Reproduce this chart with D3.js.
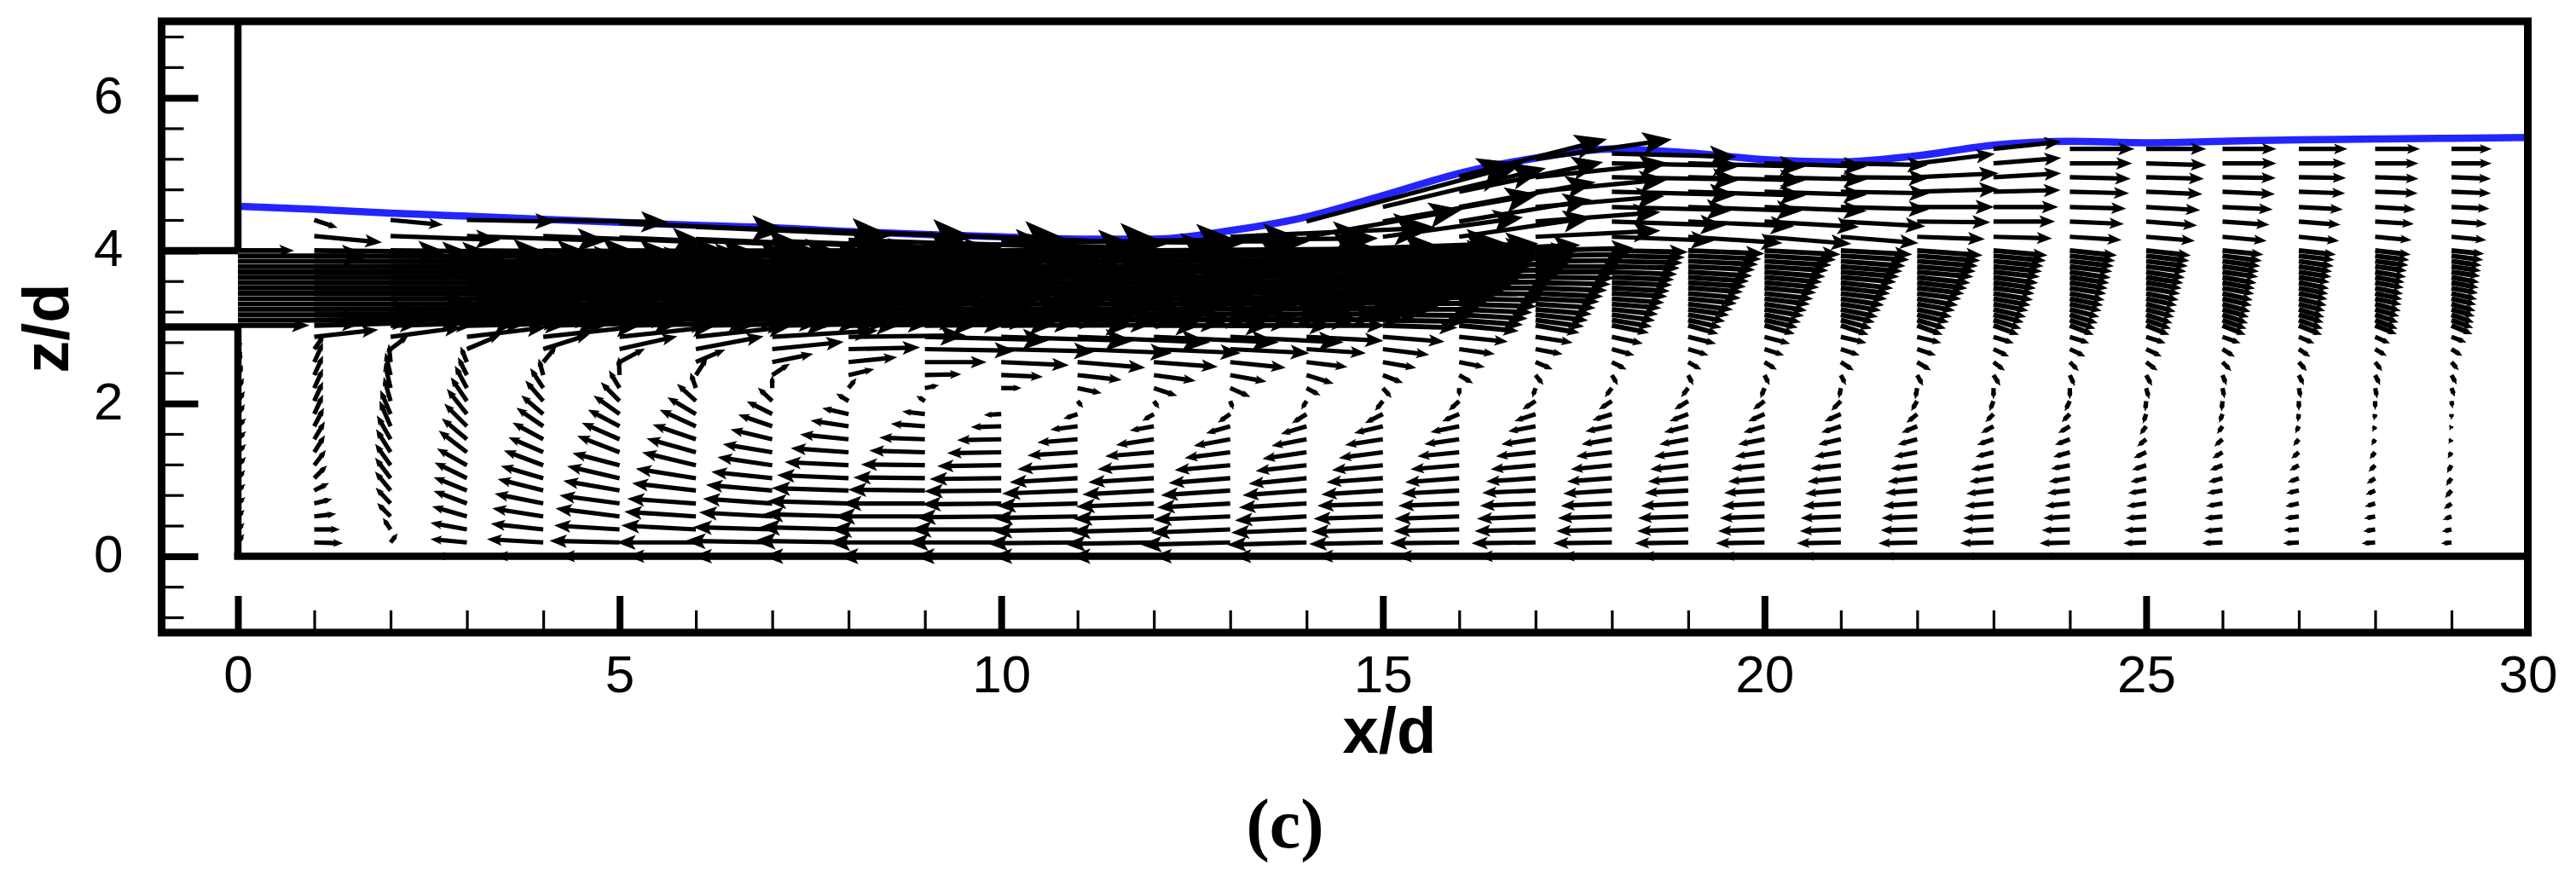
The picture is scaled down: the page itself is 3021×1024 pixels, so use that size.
<!DOCTYPE html>
<html>
<head>
<meta charset="utf-8">
<title>velocity vectors</title>
<script src="https://cdn.jsdelivr.net/npm/d3@7"></script>
<style>
html, body { margin: 0; padding: 0; background: #fff; }
text { font-family: "Liberation Sans", Arial, sans-serif; fill: #000; }
</style>
</head>
<body>
<div id="chart"></div>
<script>
// stations along the channel, x/d
var stations = [0,1,2,3,4,5,6,7,8,9,10,11,12,13,14,15,16,17,18,19,20,21,22,23,24,25,26,27,28,29];
var xTicks = [0,5,10,15,20,25,30];
var zTicks = [0,2,4,6];
var xMinor = [1,2,3,4,6,7,8,9,11,12,13,14,16,17,18,19,21,22,23,24,26,27,28,29];
var zMinor = [-0.8,-0.4,0.4,0.8,1.2,1.6,2.4,2.8,3.2,3.6,4.4,4.8,5.2,5.6,6.4,6.8];

// free surface z/d at x/d = 0..30
var surfaceX = [0,1,2,3,4,5,6,7,8,9,10,11,12,13,14,15,16,17,18,19,20,21,22,23,24,25,26,27,28,29,30];
var surfaceZ = [4.58,4.54,4.49,4.45,4.41,4.37,4.33,4.3,4.25,4.21,4.18,4.15,4.15,4.26,4.44,4.72,5.01,5.21,5.33,5.28,5.19,5.16,5.24,5.38,5.43,5.41,5.43,5.45,5.46,5.47,5.48];

// row heights
var zLow = [0.18,0.35,0.52,0.69,0.86,1.02,1.19,1.36,1.53,1.7,1.86,2.03,2.2,2.37,2.54,2.71,2.87];
var zJet = [3.02,3.09,3.16,3.23,3.3,3.37,3.44,3.51,3.58,3.65,3.72,3.79,3.86,3.93,4.0];

// vector components in 1/100 x/d, one row per station, bottom to top
// arrows lying on the floor z/d = 0, one value per station
var uFloor = [0,3,-7,-39,-60,-75,-86,-100,-108,-110,-110,-108,-105,-97,-92,-83,-79,-72,-63,-58,-52,-47,-41,-35,-30,-25,-20,-15,-12,-8];
var uLow = [
[6,6,6,7,7,7,8,8,8,8,7,7,6,5,4,3,2],
[34,30,25,20,16,14,13,12,12,11,10,10,10,10,10,11,80],
[7,-8,-15,-17,-18,-18,-18,-17,-16,-13,-12,-8,-7,-6,-2,20,90],
[-44,-44,-42,-40,-40,-39,-36,-34,-30,-27,-24,-19,-14,-10,-7,40,100],
[-70,-65,-63,-60,-56,-52,-48,-42,-37,-32,-26,-21,-15,-5,15,57,120],
[-88,-82,-80,-75,-70,-65,-58,-52,-46,-38,-31,-22,-12,-1,30,72,120],
[-100,-94,-90,-86,-80,-75,-67,-61,-53,-44,-34,-22,-6,13,35,85,120],
[-110,-100,-92,-87,-83,-76,-68,-61,-51,-41,-30,-16,0,20,50,90,135],
[-120,-113,-108,-103,-97,-90,-80,-72,-60,-46,-31,-13,8,30,60,90,150],
[-123,-120,-115,-105,-97,-90,-80,-69,-56,-41,-26,-8,15,44,77,115,160],
[-120,-115,-108,-100,-97,-90,-80,-67,-54,-36,-19,0,23,51,85,120,170],
[-115,-108,-107,-102,-95,-85,-75,-62,-49,-32,-15,5,28,54,85,120,170],
[-113,-105,-102,-98,-90,-82,-70,-60,-46,-28,-12,5,27,51,80,110,160],
[-113,-100,-97,-92,-87,-77,-69,-56,-44,-28,-13,3,23,44,69,100,145],
[-100,-95,-90,-85,-80,-72,-63,-54,-42,-30,-16,-5,15,32,50,74,97],
[-93,-90,-87,-82,-77,-70,-63,-54,-46,-34,-20,-8,9,23,40,57,77],
[-87,-82,-81,-76,-72,-67,-60,-51,-42,-34,-19,-11,0,15,30,43,60],
[-80,-76,-73,-69,-66,-61,-55,-48,-41,-32,-24,-14,-3,8,19,32,45],
[-73,-69,-67,-63,-60,-55,-50,-43,-36,-31,-22,-14,-7,6,16,26,37],
[-66,-63,-62,-58,-53,-49,-46,-41,-34,-28,-21,-15,-7,5,14,23,33],
[-60,-57,-55,-52,-49,-44,-40,-35,-31,-24,-18,-12,-4,5,13,22,30],
[-54,-50,-49,-46,-43,-40,-36,-31,-26,-22,-18,-10,-2,5,14,21,30],
[-47,-44,-43,-41,-38,-35,-31,-27,-22,-17,-11,-6,-2,6,15,21,28],
[-40,-37,-36,-34,-32,-28,-26,-20,-18,-13,-8,-4,0,7,12,17,23],
[-36,-33,-31,-29,-26,-24,-21,-18,-16,-12,-8,-5,0,5,9,17,22],
[-26,-25,-23,-22,-20,-17,-15,-13,-9,-6,-3,-1,3,6,12,17,22],
[-23,-21,-20,-18,-17,-15,-13,-10,-8,-5,-3,-1,2,4,9,13,20],
[-17,-16,-15,-14,-13,-11,-9,-7,-5,-3,-1,0,2,5,8,12,17],
[-14,-12,-11,-10,-9,-8,-6,-5,-3,-2,-1,0,2,5,7,12,16],
[-10,-9,-8,-7,-6,-5,-4,-3,-2,-1,0,1,3,5,7,11,16]
];
var wLow = [
[8,6,6,6,6,8,8,8,8,8,10,10,10,10,10,10,10],
[-1,0,3,5,8,14,17,19,20,21,22,22,22,22,22,15,9],
[9,12,15,18,22,24,25,27,28,30,28,28,30,26,20,15,12],
[4,8,12,15,16,19,20,26,25,27,30,28,26,20,17,17,12],
[4,7,10,12,14,15,18,18,20,22,22,24,23,18,18,18,13],
[2,5,10,10,12,15,15,20,20,20,22,22,20,20,16,16,13],
[0,5,6,6,9,12,16,17,18,20,20,20,17,20,15,16,13],
[2,3,5,6,7,8,10,10,12,14,15,15,13,13,10,9,8],
[2,3,3,3,3,4,4,5,6,7,7,8,10,7,6,2,2],
[0,0,0,0,1,1,1,2,2,3,3,5,3,1,0,-2,-4],
[0,0,-1,-1,-1,-1,-1,-1,-1,-1,-1,0,0,-2,-4,-3,-5],
[-1,-2,-2,-3,-4,-5,-5,-4,-4,-4,-5,-6,-6,-6,-7,-5,-7],
[-2,-3,-3,-4,-5,-5,-5,-5,-7,-5,-7,-7,-9,-7,-6,-5,-7],
[-3,-4,-4,-5,-6,-6,-6,-7,-8,-8,-9,-8,-10,-8,-7,-5,-7],
[-3,-4,-5,-5,-6,-7,-7,-8,-8,-9,-10,-8,-8,-10,-6,-5,-5],
[-2,-3,-3,-3,-5,-5,-6,-7,-7,-8,-10,-10,-10,-9,-7,-7,-6],
[-1,-2,-3,-3,-4,-5,-5,-5,-6,-7,-8,-10,-8,-9,-6,-6,-6],
[-1,-2,-3,-3,-3,-4,-5,-5,-6,-6,-8,-9,-9,-10,-8,-6,-7],
[-1,-2,-2,-3,-4,-4,-5,-5,-6,-6,-7,-9,-9,-10,-8,-7,-8],
[-1,-2,-2,-3,-3,-4,-5,-5,-6,-7,-8,-9,-9,-10,-8,-7,-8],
[-1,-2,-2,-3,-3,-4,-4,-5,-6,-7,-8,-9,-10,-10,-8,-7,-8],
[-1,-2,-2,-3,-4,-4,-4,-5,-6,-7,-8,-10,-10,-10,-9,-7,-7],
[-1,-1,-2,-3,-3,-4,-4,-5,-6,-7,-9,-10,-11,-11,-9,-7,-7],
[-1,-2,-2,-3,-4,-4,-5,-5,-6,-7,-8,-10,-11,-11,-9,-8,-7],
[-1,-1,-2,-3,-3,-4,-4,-5,-6,-7,-8,-10,-11,-11,-9,-8,-7],
[-1,-1,-2,-3,-3,-4,-5,-6,-7,-8,-9,-10,-11,-11,-9,-8,-7],
[-1,-2,-2,-3,-3,-4,-5,-6,-7,-7,-8,-10,-10,-10,-9,-8,-7],
[-1,-1,-2,-3,-3,-4,-5,-6,-6,-6,-7,-9,-10,-10,-9,-8,-7],
[-1,-2,-2,-3,-4,-5,-6,-6,-5,-4,-5,-8,-10,-10,-9,-7,-7],
[-1,-2,-3,-5,-7,-7,-7,-5,-3,-2,-4,-6,-8,-9,-8,-7,-6]
];
var uJet = [
[90,170,250,330,370,400,450,480,500,470,460,370,330,170,70],
[140,230,310,370,420,450,470,480,480,470,450,400,330,240,170],
[170,250,320,370,420,440,460,470,470,460,440,410,350,270,200],
[180,250,310,360,400,420,440,450,450,440,420,400,350,280,220],
[180,240,300,350,380,400,420,430,430,420,410,390,350,290,240],
[180,240,290,330,360,380,400,410,410,410,400,380,350,300,260],
[180,230,280,320,350,370,380,390,400,390,380,370,340,310,270],
[170,220,270,310,330,350,370,380,380,380,370,360,340,310,280],
[170,220,260,300,320,340,350,360,370,370,360,350,330,310,290],
[170,210,250,290,310,330,340,350,360,360,350,340,330,310,290],
[170,210,250,280,300,320,330,340,350,350,340,340,320,310,290],
[160,200,240,270,290,310,320,330,340,340,330,330,320,300,290],
[150,190,230,260,280,300,310,320,330,330,330,320,310,300,290],
[130,165,200,225,245,265,280,290,300,305,305,300,300,290,280],
[100,125,150,170,185,200,215,225,235,245,250,255,260,260,260],
[94,105,115,125,135,145,155,165,175,180,190,195,200,200,200],
[74,80,86,92,98,104,110,116,122,128,134,140,146,150,155],
[54,60,65,70,75,80,85,90,95,100,105,110,115,120,125],
[45,49,53,57,61,65,69,72,75,78,82,85,89,92,96],
[36,40,45,50,55,60,65,68,72,76,80,84,88,92,96],
[36,40,44,48,52,56,60,64,68,72,76,80,84,90,96],
[33,37,41,45,49,53,57,61,65,69,73,77,81,86,90],
[30,34,38,42,46,50,54,58,62,66,70,73,76,79,82],
[30,33,36,39,42,45,48,50,52,55,57,60,62,65,67],
[28,30,33,35,38,40,42,44,46,48,50,52,54,56,58],
[27,29,31,33,35,37,39,41,43,45,47,49,51,53,55],
[27,28,30,31,33,35,36,38,39,41,43,44,46,48,50],
[27,28,29,30,31,33,34,35,36,37,39,40,42,43,45],
[25,26,27,28,30,31,32,33,34,35,37,38,40,41,43],
[24,25,26,27,28,29,30,31,32,33,34,35,36,38,39]
];
var wJet = [
[0,0,0,0,0,0,0,0,0,0,0,0,0,0,0],
[4,3,2,1,0,0,0,0,0,0,0,0,-1,-1,-2],
[5,3,2,1,0,0,0,0,0,0,0,0,-1,-1,-2],
[4,3,2,1,0,0,0,0,0,0,0,0,-1,-1,-2],
[4,3,2,1,0,0,0,0,0,0,0,0,-1,-1,-2],
[3,2,1,1,0,0,0,0,0,0,0,0,-1,-1,-2],
[3,2,1,1,0,0,0,0,0,0,0,0,-1,-1,-1],
[3,2,1,0,0,0,0,0,0,0,0,0,-1,-1,-1],
[2,1,1,0,0,0,0,0,0,0,0,0,0,-1,-1],
[2,1,1,0,0,0,0,0,0,0,0,0,0,0,-1],
[1,1,1,0,0,0,0,0,0,1,1,0,0,0,0],
[1,1,1,1,1,1,1,1,1,1,1,1,1,1,0],
[0,1,1,1,2,2,2,2,3,3,3,3,3,3,2],
[0,1,1,2,3,3,4,4,4,4,4,4,3,3,2],
[0,1,2,3,4,5,5,6,7,7,8,8,9,9,9],
[-3,-2,-1,0,1,2,3,4,5,6,7,8,8,9,9],
[-7,-6,-5,-4,-3,-2,-1,0,1,2,3,4,5,6,7],
[-9,-8,-7,-6,-5,-4,-4,-3,-2,-1,0,0,1,2,3],
[-9,-8,-7,-6,-5,-5,-4,-4,-3,-3,-3,-2,-2,-2,-2],
[-10,-9,-8,-7,-7,-6,-6,-5,-5,-5,-5,-4,-4,-4,-4],
[-10,-9,-9,-8,-8,-7,-7,-6,-6,-6,-6,-5,-5,-5,-5],
[-11,-10,-9,-9,-8,-8,-7,-7,-7,-6,-6,-6,-6,-5,-5],
[-11,-10,-9,-9,-8,-8,-7,-7,-7,-7,-6,-6,-6,-6,-6],
[-11,-10,-9,-9,-8,-8,-8,-7,-7,-7,-6,-6,-6,-6,-6],
[-11,-10,-10,-9,-8,-8,-8,-7,-7,-7,-7,-6,-6,-6,-6],
[-11,-10,-10,-9,-9,-8,-8,-7,-7,-7,-7,-6,-6,-6,-6],
[-11,-10,-10,-9,-9,-8,-8,-7,-7,-7,-6,-6,-6,-6,-5],
[-11,-10,-9,-9,-8,-8,-7,-7,-7,-6,-6,-6,-6,-5,-5],
[-10,-10,-9,-8,-8,-7,-7,-7,-6,-6,-6,-5,-5,-5,-5],
[-10,-9,-9,-8,-8,-7,-7,-6,-6,-6,-5,-5,-5,-5,-4]
];
// rows above the jet, z/d differs per station
var zUp = [
[],[4.19,4.4],[4.19,4.4],[4.19,4.4],[4.19,4.4],[4.17,4.36],[4.15,4.31],[4.13,4.29],[4.14,4.25],[4.1,4.21],
[4.12],[4.12],[4.13],[4.18],[4.18,4.38],[4.18,4.38,4.57],[4.18,4.38,4.57,4.77,4.97],[4.18,4.38,4.57,4.77,4.96,5.2],
[4.18,4.38,4.57,4.77,4.96,5.14,5.27],[4.18,4.38,4.57,4.77,4.96,5.14],[4.18,4.38,4.57,4.77,4.96,5.14],[4.18,4.38,4.57,4.77,4.96,5.14],
[4.18,4.38,4.57,4.77,4.96,5.14],[4.18,4.38,4.57,4.77,4.96,5.14,5.33],[4.18,4.38,4.57,4.77,4.96,5.14,5.33],[4.18,4.38,4.57,4.77,4.96,5.14,5.33],
[4.18,4.38,4.57,4.77,4.96,5.14,5.33],[4.18,4.38,4.57,4.77,4.96,5.14,5.33],[4.18,4.38,4.57,4.77,4.96,5.14,5.33],[4.18,4.38,4.57,4.77,4.96,5.14,5.33]
];
var uUp = [
[],[85,27],[140,65],[180,113],[210,160],[240,215],[250,253],[255,260],[270,285],[280,315],
[315],[300],[290],[265],[200,280],[180,200,210],[170,170,175,185,190],[160,160,165,170,170,175],
[130,145,155,160,165,165,160],[120,135,145,150,150,150],[110,120,130,130,130,130],[98,107,112,113,112,110],
[85,92,97,103,103,98],[73,77,81,84,85,85,85],[64,67,70,74,76,78,81],[60,63,67,70,72,75,75],
[54,58,62,65,66,67,67],[49,51,54,57,58,58,60],[44,47,49,52,53,53,55],[42,43,46,48,48,49,49]
];
var wUp = [
[],[-8,-9],[-5,-6],[-6,-2],[-8,-3],[-10,-9],[-10,-11],[-10,-11],[-9,-11],[-6,-12],
[-2],[0],[3],[12],[35,75],[25,35,50],[25,28,32,38,48],[8,12,14,16,18,25],
[-5,-5,-4,-4,-3,-3,-4],[-8,-6,-5,-5,-4,-4],[-9,-7,-5,-4,-3,-4],[-8,-6,-3,-2,-1,-2],
[-3,-1,0,3,5,12],[-2,0,0,2,5,7,9],[-4,-3,-2,-2,-2,0,0],[-5,-5,-4,-3,-2,-2,0],
[-5,-4,-3,-3,-1,0,0],[-5,-4,-3,-2,-1,0,0],[-4,-3,-3,-2,-2,0,0],[-4,-3,-2,-2,-2,0,0]
];

var width = 3021, height = 1024;
var x = d3.scaleLinear().domain([-1, 30]).range([189.5, 2964.5]);
var z = d3.scaleLinear().domain([-1, 7]).range([742, 25]);

var svg = d3.select("#chart").append("svg")
	.attr("width", width)
	.attr("height", height)
	.style("display", "block");

// free surface first, arrows sit over it
var surface = surfaceX.map(function(d, i) { return [d, surfaceZ[i]]; });
svg.append("path")
	.attr("d", d3.line()
		.x(function(d) { return x(d[0]); })
		.y(function(d) { return z(d[1]); })
		.curve(d3.curveMonotoneX)(surface))
	.attr("fill", "none")
	.attr("stroke", "#2424ff")
	.attr("stroke-width", 8.5);

// flatten the columns into one list of vectors
var vectors = [];
function addRows(col, heights, us, ws, sw) {
	for (var r = 0; r < us.length; r++) {
		vectors.push({x: stations[col], z: heights[r], u: us[r] / 100, w: ws[r] / 100, sw: sw});
	}
}
stations.forEach(function(s, c) {
	vectors.push({x: s, z: 0, u: uFloor[c] / 100, w: 0, sw: 5.2});
	addRows(c, zLow, uLow[c], wLow[c], 5.2);
	// jet rows sit so close that the shafts nearly touch
	addRows(c, zJet, uJet[c], wJet[c], 5.9);
	addRows(c, zUp[c], uUp[c], wUp[c], 5.2);
});

var arrows = svg.append("g").attr("class", "vectors");
arrows.selectAll("line")
	.data(vectors)
	.enter()
	.append("line")
	.attr("x1", function(d) { return x(d.x); })
	.attr("y1", function(d) { return z(d.z); })
	.attr("x2", function(d) { return x(d.x + d.u * 0.9); })
	.attr("y2", function(d) { return z(d.z + d.w * 0.9); })
	.attr("stroke", "#000")
	.attr("stroke-width", function(d) { return d.sw; });

// filled head with a shallow notch, size goes with the vector length
arrows.selectAll("path")
	.data(vectors)
	.enter()
	.append("path")
	.attr("d", function(d) {
		var x0 = x(d.x), y0 = z(d.z), x1 = x(d.x + d.u), y1 = z(d.z + d.w);
		var dx = x1 - x0, dy = y1 - y0;
		var bx = x1 - 0.18 * dx, by = y1 - 0.18 * dy;
		var nx = x1 - 0.14 * dx, ny = y1 - 0.14 * dy;
		var px = -dy * 0.07, py = dx * 0.07;
		return "M" + x1 + "," + y1 + "L" + (bx + px) + "," + (by + py) + "L" + nx + "," + ny + "L" + (bx - px) + "," + (by - py) + "Z";
	})
	.attr("fill", "#000")
	.attr("stroke", "#000")
	.attr("stroke-width", 2.5)
	.attr("stroke-linejoin", "miter");

// walls and channel edges
var walls = [
	[[0, 7], [0, 4]],
	[[0, 3], [0, 0]],
	[[-1, 4], [0, 4]],
	[[-1, 3], [0, 3]],
	[[-0.05, 0], [30, 0]]
];
svg.append("g").selectAll("line")
	.data(walls)
	.enter()
	.append("line")
	.attr("x1", function(d) { return x(d[0][0]); })
	.attr("y1", function(d) { return z(d[0][1]); })
	.attr("x2", function(d) { return x(d[1][0]); })
	.attr("y2", function(d) { return z(d[1][1]); })
	.attr("stroke", "#000")
	.attr("stroke-width", 8.5);

// axes, ticks point into the frame
var bottomY = z(-1), leftX = x(-1);
function styleAxis(g, w) {
	g.select(".domain").remove();
	g.selectAll(".tick line").attr("stroke", "#000").attr("stroke-width", w);
}
svg.append("g")
	.attr("transform", "translate(0," + bottomY + ")")
	.call(d3.axisBottom(x).tickValues(xMinor).tickSizeInner(-26).tickFormat(""))
	.call(styleAxis, 3.2);
svg.append("g")
	.attr("transform", "translate(" + leftX + ",0)")
	.call(d3.axisLeft(z).tickValues(zMinor).tickSizeInner(-26).tickFormat(""))
	.call(styleAxis, 3.2);

var xAxis = svg.append("g")
	.attr("transform", "translate(0," + bottomY + ")")
	.call(d3.axisBottom(x).tickValues(xTicks).tickSizeInner(-43).tickPadding(26).tickFormat(d3.format("d")))
	.call(styleAxis, 8);
xAxis.selectAll("text").attr("font-size", 62).attr("font-family", "Liberation Sans").attr("fill", "#000");

var zAxis = svg.append("g")
	.attr("transform", "translate(" + leftX + ",0)")
	.call(d3.axisLeft(z).tickValues(zTicks).tickSizeInner(-43).tickPadding(45).tickFormat(d3.format("d")))
	.call(styleAxis, 8);
zAxis.selectAll("text").attr("font-size", 62).attr("font-family", "Liberation Sans").attr("fill", "#000").attr("dy", "0.29em");

// outer frame
svg.append("rect")
	.attr("x", x(-1))
	.attr("y", z(7))
	.attr("width", x(30) - x(-1))
	.attr("height", z(-1) - z(7))
	.attr("fill", "none")
	.attr("stroke", "#000")
	.attr("stroke-width", 9);

svg.append("text")
	.attr("x", 1629.5)
	.attr("y", 883)
	.attr("text-anchor", "middle")
	.attr("font-size", 76)
	.attr("font-weight", "bold")
	.text("x/d");
svg.append("text")
	.attr("transform", "translate(80,385)rotate(-90)")
	.attr("text-anchor", "middle")
	.attr("font-size", 76)
	.attr("font-weight", "bold")
	.text("z/d");
svg.append("text")
	.attr("x", 1507)
	.attr("y", 994)
	.attr("text-anchor", "middle")
	.attr("font-size", 82)
	.attr("font-weight", "bold")
	.style("font-family", "Liberation Serif")
	.text("(c)");
</script>
</body>
</html>
